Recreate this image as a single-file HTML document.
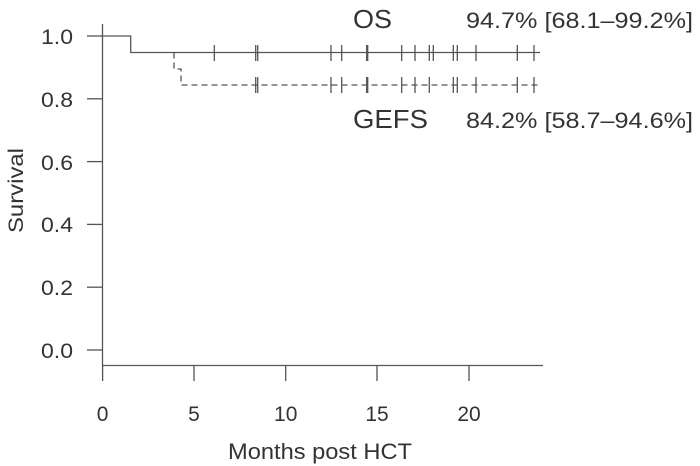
<!DOCTYPE html>
<html><head><style>
html,body{margin:0;padding:0;background:#fff;}
svg{display:block;}
text{font-family:"Liberation Sans",Arial,sans-serif;fill:#333;}
</style></head><body>
<svg width="700" height="466" viewBox="0 0 700 466">
<g stroke="#555" stroke-width="1.3" fill="none">
<line x1="102.5" y1="24" x2="102.5" y2="366"/>
<line x1="102" y1="365.5" x2="543" y2="365.5"/>
<line x1="87" y1="36" x2="102" y2="36"/>
<line x1="87" y1="98.8" x2="102" y2="98.8"/>
<line x1="87" y1="161.6" x2="102" y2="161.6"/>
<line x1="87" y1="224.4" x2="102" y2="224.4"/>
<line x1="87" y1="287.2" x2="102" y2="287.2"/>
<line x1="87" y1="350" x2="102" y2="350"/>
<line x1="102.6" y1="366" x2="102.6" y2="381"/>
<line x1="194" y1="366" x2="194" y2="381"/>
<line x1="285.7" y1="366" x2="285.7" y2="381"/>
<line x1="377" y1="366" x2="377" y2="381"/>
<line x1="469" y1="366" x2="469" y2="381"/>
<polyline points="102,36 130.7,36 130.7,52.5 540,52.5"/>
<polyline points="174,52.5 174,69 181,69 181,85 540,85" stroke-dasharray="6,4"/>
<path d="M214.3 45V61M255.7 45V61M257.7 45V61M331 45V61M341.7 45V61M366.7 45V61M367.7 45V61M401.7 45V61M415 45V61M429.3 45V61M433.3 45V61M453.3 45V61M457.3 45V61M476 45V61M517.3 45V61M534 45V61"/>
<path d="M255.7 77V93M257.7 77V93M331 77V93M341.7 77V93M366.7 77V93M367.7 77V93M401.7 77V93M415 77V93M429.3 77V93M453.3 77V93M457.3 77V93M476 77V93M517.3 77V93M534 77V93"/>
</g>
<g font-size="21" text-anchor="end">
<text x="73" y="44" textLength="32" lengthAdjust="spacingAndGlyphs">1.0</text>
<text x="73" y="107" textLength="32" lengthAdjust="spacingAndGlyphs">0.8</text>
<text x="73" y="170" textLength="32" lengthAdjust="spacingAndGlyphs">0.6</text>
<text x="73" y="232" textLength="32" lengthAdjust="spacingAndGlyphs">0.4</text>
<text x="73" y="295" textLength="32" lengthAdjust="spacingAndGlyphs">0.2</text>
<text x="73" y="358" textLength="32" lengthAdjust="spacingAndGlyphs">0.0</text>
</g>
<g font-size="21" text-anchor="middle">
<text x="102.6" y="421">0</text>
<text x="194" y="421">5</text>
<text x="285.7" y="421">10</text>
<text x="377" y="421">15</text>
<text x="469" y="421">20</text>
</g>
<text x="228" y="459" font-size="22" textLength="184" lengthAdjust="spacingAndGlyphs">Months post HCT</text>
<text transform="translate(23,233) rotate(-90)" font-size="21" textLength="85" lengthAdjust="spacingAndGlyphs">Survival</text>
<text x="353" y="28" font-size="26" textLength="39" lengthAdjust="spacingAndGlyphs">OS</text>
<text x="353" y="128" font-size="26" textLength="75" lengthAdjust="spacingAndGlyphs">GEFS</text>
<text x="466" y="28" font-size="22" textLength="227" lengthAdjust="spacingAndGlyphs">94.7% [68.1–99.2%]</text>
<text x="466" y="128" font-size="22" textLength="227" lengthAdjust="spacingAndGlyphs">84.2% [58.7–94.6%]</text>
</svg>
</body></html>
